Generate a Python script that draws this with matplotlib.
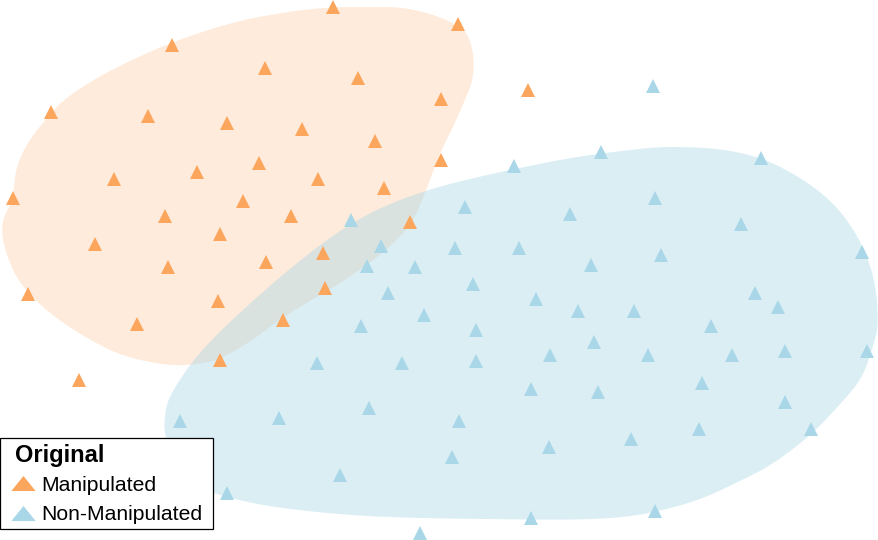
import numpy as np
import matplotlib

matplotlib.use("Agg")
import matplotlib.pyplot as plt
from matplotlib.lines import Line2D
from matplotlib.patches import Polygon
from matplotlib.path import Path

plt.rcParams["font.family"] = ["Liberation Sans", "DejaVu Sans"]

# embedding coordinates (screen-like units, y grows downward)
MANIP_X = [333, 458, 172, 265, 358, 441, 51, 148, 227, 302, 375, 441, 259, 197,
           114, 318, 384, 13, 243, 165, 291, 410, 220, 95, 323, 168, 266, 28,
           325, 218, 137, 283, 220, 79, 528]
MANIP_Y = [7, 24, 45, 68, 78, 99, 112, 116, 123, 129, 141, 160, 163, 172,
           179, 179, 188, 198, 201, 216, 216, 222, 234, 244, 253, 267, 262, 294,
           288, 301, 324, 320, 360, 380, 90]

NONMANIP_X = [601, 514, 761, 655, 465, 570, 351, 741, 862, 381, 455, 519, 661,
              367, 415, 591, 473, 388, 755, 536, 778, 578, 634, 424, 711, 361,
              476, 594, 550, 648, 732, 785, 867, 317, 402, 476, 702, 531, 598,
              785, 369, 279, 180, 459, 811, 699, 631, 549, 452, 340, 227, 655,
              531, 420, 653]
NONMANIP_Y = [152, 166, 158, 198, 207, 214, 220, 224, 252, 246, 248, 248, 255,
              266, 267, 265, 284, 293, 293, 299, 307, 311, 311, 315, 326, 326,
              330, 342, 355, 355, 355, 351, 351, 363, 363, 361, 383, 389, 392,
              402, 408, 418, 421, 421, 429, 429, 439, 447, 457, 475, 493, 511,
              518, 533, 86]

# group region outlines
MANIP_HULL_X = [370, 400, 433, 463, 470, 474, 473, 465, 453, 440, 430, 417, 407,
                383, 350, 317, 283, 257, 233, 213, 180, 153, 120, 90, 63, 40, 17,
                5, 2, 3, 13, 15, 22, 33, 47, 63, 93, 127, 177, 240, 300, 337]
MANIP_HULL_Y = [7, 7, 14, 28, 40, 58, 80, 100, 127, 153, 180, 213, 230, 253, 277,
                297, 317, 337, 352, 362, 366, 363, 355, 340, 323, 305, 280, 250,
                233, 218, 200, 173, 153, 135, 118, 100, 80, 62, 40, 20, 10, 7]
NONMANIP_HULL_X = [685, 722, 759, 791, 821, 842, 860, 872, 877, 878, 874, 863, 844,
                   819, 796, 768, 736, 704, 672, 630, 575, 483, 413, 344, 271, 225,
                   197, 174, 164, 165, 169, 188, 211, 248, 294, 340, 381, 427, 473,
                   524, 575, 621, 658]
NONMANIP_HULL_Y = [147, 149, 157, 172, 192, 213, 240, 270, 297, 327, 343, 377, 400,
                   427, 447, 467, 483, 498, 508, 517, 520, 519, 518, 515, 507, 497,
                   487, 463, 433, 413, 397, 367, 340, 305, 265, 230, 207, 190, 178,
                   167, 157, 151, 147]

ORANGE = "#fca55d"
BLUE = "#a9d7e7"


def smooth_closed(xs, ys, rounds=3):
    pts = np.column_stack([xs, ys]).astype(float)
    for _ in range(rounds):
        nxt = np.roll(pts, -1, axis=0)
        q = 0.75 * pts + 0.25 * nxt
        r = 0.25 * pts + 0.75 * nxt
        pts = np.empty((2 * len(q), 2))
        pts[0::2] = q
        pts[1::2] = r
    return pts


fig = plt.figure(figsize=(8.79, 5.40), dpi=100)
ax = fig.add_axes([0, 0, 1, 1])
ax.set_xlim(0, 879)
ax.set_ylim(540, 0)
ax.axis("off")

ax.add_patch(Polygon(smooth_closed(MANIP_HULL_X, MANIP_HULL_Y), closed=True,
                     facecolor=ORANGE, alpha=0.22, edgecolor="none", zorder=1))
ax.add_patch(Polygon(smooth_closed(NONMANIP_HULL_X, NONMANIP_HULL_Y), closed=True,
                     facecolor=BLUE, alpha=0.42, edgecolor="none", zorder=2))

ax.plot(MANIP_X, MANIP_Y, ls="none", marker="^", ms=9.5, color=ORANGE,
        markeredgewidth=0, zorder=3)
ax.plot(NONMANIP_X, NONMANIP_Y, ls="none", marker="^", ms=9.5, color=BLUE,
        markeredgewidth=0, zorder=3)

# legend glyph is a wider, flatter triangle than the plot markers
flat_tri = Path([(-1, -0.62), (1, -0.62), (0, 0.62), (-1, -0.62)],
                [Path.MOVETO, Path.LINETO, Path.LINETO, Path.CLOSEPOLY])
handles = [Line2D([], [], ls="none", marker=flat_tri, ms=17.5, color=ORANGE,
                  markeredgewidth=0, label="Manipulated"),
           Line2D([], [], ls="none", marker=flat_tri, ms=17.5, color=BLUE,
                  markeredgewidth=0, label="Non-Manipulated")]
leg = ax.legend(handles=handles, title="Original", loc="lower left",
                bbox_to_anchor=(0.0, 0.0204, 213 / 879, 0.2), mode="expand",
                fontsize=15.2, frameon=True, fancybox=False, edgecolor="black",
                framealpha=1, handlelength=1.74, handletextpad=0.0,
                borderpad=0.22, labelspacing=0.5, borderaxespad=0,
                alignment="left",
                title_fontproperties={"weight": "bold", "size": 17})
leg.get_frame().set_linewidth(0.9)
leg.get_title().set_position((10.5, -1.5))

fig.savefig("out.png", dpi=100)
